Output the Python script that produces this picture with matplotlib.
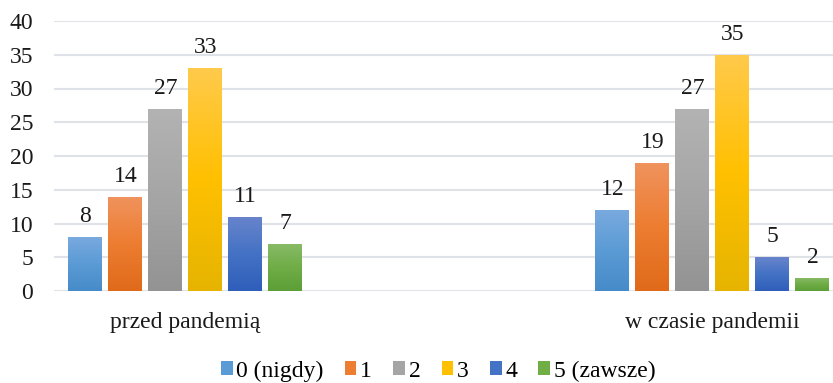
import numpy as np
import matplotlib
matplotlib.use("Agg")
import matplotlib.pyplot as plt
from matplotlib.colors import LinearSegmentedColormap
from matplotlib.patches import Patch

plt.rcParams['font.family'] = ['Liberation Serif', 'DejaVu Serif']

categories = ["przed pandemią", "w czasie pandemii"]
series_names = ["0 (nigdy)", "1", "2", "3", "4", "5 (zawsze)"]
values = {
    "0 (nigdy)": [8, 12],
    "1": [14, 19],
    "2": [27, 27],
    "3": [33, 35],
    "4": [11, 5],
    "5 (zawsze)": [7, 2],
}
y_ticks = [0, 5, 10, 15, 20, 25, 30, 35, 40]

# (top, middle, bottom) shades for the vertical gradient of each series
shades = {
    "0 (nigdy)": ("#7aaadf", "#5b9bd5", "#468bc9"),
    "1": ("#f0935e", "#ed7d31", "#e06a1a"),
    "2": ("#b3b3b3", "#a5a5a5", "#939393"),
    "3": ("#ffca4c", "#ffc000", "#e6b400"),
    "4": ("#6884cc", "#4472c4", "#2f5ebb"),
    "5 (zawsze)": ("#88bb68", "#70ad47", "#5c9e37"),
}

FS = 17
TXT = "#1a1a1a"

fig = plt.figure(figsize=(8.33, 3.83), dpi=100)
ax = fig.add_axes([54 / 833, 1 - 291 / 383, 1 - 54 / 833, 270 / 383])

x = np.arange(len(categories))
pitch = 0.0759
width = 0.0645
n = len(series_names)

for i, name in enumerate(series_names):
    offs = (i - (n - 1) / 2) * pitch
    bars = ax.bar(x + offs, values[name], width=width, color="none",
                  edgecolor="none", zorder=3)
    top, mid, bot = shades[name]
    cmap = LinearSegmentedColormap.from_list(name, [bot, mid, top])
    grad = np.linspace(0, 1, 256).reshape(-1, 1)
    for rect, v in zip(bars, values[name]):
        x0 = rect.get_x()
        x1 = x0 + rect.get_width()
        im = ax.imshow(grad, cmap=cmap, origin="lower", aspect="auto",
                       extent=[x0, x1, 0, v], zorder=3, interpolation="bilinear")
        im.set_clip_path(rect)
        ax.text(rect.get_x() + rect.get_width() / 2, v + 2.2, str(v),
                ha="center", va="baseline", fontsize=FS, color=TXT)

ax.set_xlim(-0.2495, 1.2287)
ax.set_ylim(0, 40)
ax.set_yticks(y_ticks)
ax.set_yticklabels([str(t) for t in y_ticks], fontsize=FS, color=TXT)
ax.set_xticks(x)
ax.set_xticklabels(categories, fontsize=FS, color=TXT)
ax.tick_params(axis="both", length=0)
ax.tick_params(axis="y", pad=15)
ax.tick_params(axis="x", pad=15)
ax.yaxis.grid(True, color="#dfe3e8", linewidth=1.5, zorder=0)
ax.set_axisbelow(True)
for s in ax.spines.values():
    s.set_visible(False)

handles = [Patch(facecolor=shades[nm][1], edgecolor="none") for nm in series_names]
fig.legend(handles, series_names, loc="center", bbox_to_anchor=(438 / 833, 1 - 371 / 383),
           ncol=n, frameon=False, fontsize=FS, handlelength=0.5, handleheight=0.5,
           handletextpad=0.15, columnspacing=0.9)

fig.savefig("out.png", dpi=100)
